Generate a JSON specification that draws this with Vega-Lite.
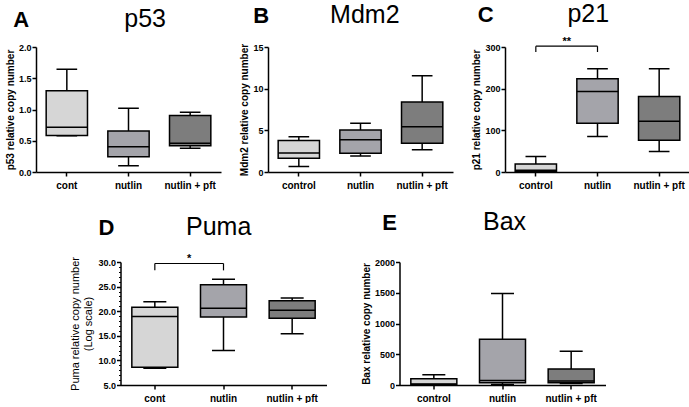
{
  "$schema": "https://vega.github.io/schema/vega-lite/v6.json",
  "background": "white",
  "padding": {"left": 5, "top": 2, "right": 2, "bottom": 0},
  "config": {
    "font": "Liberation Sans",
    "view": {"stroke": null},
    "axis": {"domainColor": "black", "domainWidth": 1.5, "tickColor": "black", "tickWidth": 1.5, "tickSize": 4, "labelFont": "Liberation Sans", "labelFontWeight": "bold", "labelColor": "black", "labelFontSize": 9, "titleFont": "Liberation Sans", "titleFontWeight": "bold", "titleFontSize": 10, "titleColor": "black", "grid": false},
    "axisX": {"labelFontSize": 10, "labelAngle": 0, "labelPadding": 4},
    "axisY": {"titlePadding": 3, "labelPadding": 1, "labelOverlap": false},
    "axisQuantitative": {"labelOverlap": false},
    "text": {"font": "Liberation Sans", "color": "black"}
  },
  "datasets": {
    "p53": [
      {"group": "cont", "lo": 0.58, "q1": 0.585, "med": 0.715, "q3": 1.30, "hi": 1.645},
      {"group": "nutlin", "lo": 0.10, "q1": 0.245, "med": 0.405, "q3": 0.655, "hi": 1.02},
      {"group": "nutlin + pft", "lo": 0.38, "q1": 0.42, "med": 0.46, "q3": 0.905, "hi": 0.955}
    ],
    "mdm2": [
      {"group": "control", "lo": 0.66, "q1": 1.66, "med": 2.28, "q3": 3.78, "hi": 4.24},
      {"group": "nutlin", "lo": 1.91, "q1": 2.24, "med": 3.86, "q3": 5.03, "hi": 5.86},
      {"group": "nutlin + pft", "lo": 2.66, "q1": 3.45, "med": 5.44, "q3": 8.39, "hi": 11.55}
    ],
    "p21": [
      {"group": "control", "lo": 0, "q1": 2, "med": 4, "q3": 19, "hi": 37},
      {"group": "nutlin", "lo": 85, "q1": 117, "med": 193, "q3": 224, "hi": 248},
      {"group": "nutlin + pft", "lo": 49, "q1": 76, "med": 122, "q3": 181, "hi": 248}
    ],
    "puma": [
      {"group": "cont", "lo": 8.4, "q1": 8.6, "med": 18.9, "q3": 20.8, "hi": 21.9},
      {"group": "nutlin", "lo": 12.0, "q1": 18.8, "med": 20.6, "q3": 25.4, "hi": 26.5},
      {"group": "nutlin + pft", "lo": 15.4, "q1": 18.55, "med": 20.2, "q3": 22.1, "hi": 22.7}
    ],
    "bax": [
      {"group": "control", "lo": 0, "q1": 8, "med": 16, "q3": 100, "hi": 166},
      {"group": "nutlin", "lo": 8, "q1": 38, "med": 75, "q3": 745, "hi": 1488},
      {"group": "nutlin + pft", "lo": 25, "q1": 38, "med": 66, "q3": 262, "hi": 548}
    ]
  },
  "spacing": 20,
  "center": true,
  "vconcat": [
    {
      "spacing": 18,
      "hconcat": [
        {
          "width": 185, "height": 125,
          "data": {"name": "p53"},
          "resolve": {"scale": {"x": "independent"}},
          "layer": [
            {"layer": [
              {"mark": {"type": "rule", "color": "black", "strokeWidth": 1.5},
               "encoding": {"x": {"field": "group", "type": "nominal", "sort": null, "scale": {"paddingInner": 0.33, "paddingOuter": 0.165}, "axis": {"title": null}},
                            "y": {"field": "lo", "type": "quantitative", "scale": {"domain": [0, 2], "nice": false, "zero": false}, "axis": {"title": "p53 relative copy number", "values": [0, 0.5, 1, 1.5, 2], "tickCount": 20, "format": ".1f"}},
                            "y2": {"field": "hi"}}},
              {"mark": {"type": "bar", "stroke": "black", "strokeWidth": 1.5},
               "encoding": {"x": {"field": "group", "type": "nominal", "sort": null}, "y": {"field": "q1", "type": "quantitative"}, "y2": {"field": "q3"},
                            "fill": {"field": "group", "type": "nominal", "sort": null, "scale": {"range": ["#d6d6d6", "#a4a4aa", "#7d7d7d"]}, "legend": null}}},
              {"mark": {"type": "bar", "stroke": "black", "strokeWidth": 1.5, "fillOpacity": 0},
               "encoding": {"x": {"field": "group", "type": "nominal", "sort": null}, "y": {"field": "med", "type": "quantitative"}, "y2": {"field": "med"}}},
              {"mark": {"type": "bar", "stroke": "black", "strokeWidth": 1.5, "fillOpacity": 0, "width": {"band": 0.5}},
               "encoding": {"x": {"field": "group", "type": "nominal", "sort": null}, "y": {"field": "hi", "type": "quantitative"}, "y2": {"field": "hi"}}},
              {"mark": {"type": "bar", "stroke": "black", "strokeWidth": 1.5, "fillOpacity": 0, "width": {"band": 0.5}},
               "encoding": {"x": {"field": "group", "type": "nominal", "sort": null}, "y": {"field": "lo", "type": "quantitative"}, "y2": {"field": "lo"}}}
            ]},
            {"data": {"values": [{}]},
             "mark": {"type": "text", "text": "A", "fontSize": 22, "fontWeight": "bold", "align": "left", "baseline": "alphabetic"},
             "encoding": {"x": {"datum": -0.37, "type": "quantitative", "scale": {"domain": [0, 3]}, "axis": null}, "y": {"datum": 2.32, "type": "quantitative"}}},
            {"data": {"values": [{}]},
             "mark": {"type": "text", "text": "p53", "fontSize": 25, "align": "center", "baseline": "alphabetic"},
             "encoding": {"x": {"datum": 1.77, "type": "quantitative", "scale": {"domain": [0, 3]}, "axis": null}, "y": {"datum": 2.32, "type": "quantitative"}}}
          ]
        },
        {
          "width": 185, "height": 125,
          "data": {"name": "mdm2"},
          "resolve": {"scale": {"x": "independent"}},
          "layer": [
            {"layer": [
              {"mark": {"type": "rule", "color": "black", "strokeWidth": 1.5},
               "encoding": {"x": {"field": "group", "type": "nominal", "sort": null, "scale": {"paddingInner": 0.33, "paddingOuter": 0.165}, "axis": {"title": null}},
                            "y": {"field": "lo", "type": "quantitative", "scale": {"domain": [0, 15], "nice": false, "zero": false}, "axis": {"title": "Mdm2 relative copy number", "values": [0, 5, 10, 15], "tickCount": 20}},
                            "y2": {"field": "hi"}}},
              {"mark": {"type": "bar", "stroke": "black", "strokeWidth": 1.5},
               "encoding": {"x": {"field": "group", "type": "nominal", "sort": null}, "y": {"field": "q1", "type": "quantitative"}, "y2": {"field": "q3"},
                            "fill": {"field": "group", "type": "nominal", "sort": null, "scale": {"range": ["#d6d6d6", "#a4a4aa", "#7d7d7d"]}, "legend": null}}},
              {"mark": {"type": "bar", "stroke": "black", "strokeWidth": 1.5, "fillOpacity": 0},
               "encoding": {"x": {"field": "group", "type": "nominal", "sort": null}, "y": {"field": "med", "type": "quantitative"}, "y2": {"field": "med"}}},
              {"mark": {"type": "bar", "stroke": "black", "strokeWidth": 1.5, "fillOpacity": 0, "width": {"band": 0.5}},
               "encoding": {"x": {"field": "group", "type": "nominal", "sort": null}, "y": {"field": "hi", "type": "quantitative"}, "y2": {"field": "hi"}}},
              {"mark": {"type": "bar", "stroke": "black", "strokeWidth": 1.5, "fillOpacity": 0, "width": {"band": 0.5}},
               "encoding": {"x": {"field": "group", "type": "nominal", "sort": null}, "y": {"field": "lo", "type": "quantitative"}, "y2": {"field": "lo"}}}
            ]},
            {"data": {"values": [{}]},
             "mark": {"type": "text", "text": "B", "fontSize": 22, "fontWeight": "bold", "align": "left", "baseline": "alphabetic"},
             "encoding": {"x": {"datum": -0.24, "type": "quantitative", "scale": {"domain": [0, 3]}, "axis": null}, "y": {"datum": 17.9, "type": "quantitative"}}},
            {"data": {"values": [{}]},
             "mark": {"type": "text", "text": "Mdm2", "fontSize": 25, "align": "center", "baseline": "alphabetic"},
             "encoding": {"x": {"datum": 1.57, "type": "quantitative", "scale": {"domain": [0, 3]}, "axis": null}, "y": {"datum": 17.9, "type": "quantitative"}}}
          ]
        },
        {
          "width": 185, "height": 125,
          "data": {"name": "p21"},
          "resolve": {"scale": {"x": "independent"}},
          "layer": [
            {"layer": [
              {"mark": {"type": "rule", "color": "black", "strokeWidth": 1.5},
               "encoding": {"x": {"field": "group", "type": "nominal", "sort": null, "scale": {"paddingInner": 0.33, "paddingOuter": 0.165}, "axis": {"title": null}},
                            "y": {"field": "lo", "type": "quantitative", "scale": {"domain": [0, 300], "nice": false, "zero": false}, "axis": {"title": "p21 relative copy number", "values": [0, 100, 200, 300], "tickCount": 20}},
                            "y2": {"field": "hi"}}},
              {"mark": {"type": "bar", "stroke": "black", "strokeWidth": 1.5},
               "encoding": {"x": {"field": "group", "type": "nominal", "sort": null}, "y": {"field": "q1", "type": "quantitative"}, "y2": {"field": "q3"},
                            "fill": {"field": "group", "type": "nominal", "sort": null, "scale": {"range": ["#d6d6d6", "#a4a4aa", "#7d7d7d"]}, "legend": null}}},
              {"mark": {"type": "bar", "stroke": "black", "strokeWidth": 1.5, "fillOpacity": 0},
               "encoding": {"x": {"field": "group", "type": "nominal", "sort": null}, "y": {"field": "med", "type": "quantitative"}, "y2": {"field": "med"}}},
              {"mark": {"type": "bar", "stroke": "black", "strokeWidth": 1.5, "fillOpacity": 0, "width": {"band": 0.5}},
               "encoding": {"x": {"field": "group", "type": "nominal", "sort": null}, "y": {"field": "hi", "type": "quantitative"}, "y2": {"field": "hi"}}},
              {"mark": {"type": "bar", "stroke": "black", "strokeWidth": 1.5, "fillOpacity": 0, "width": {"band": 0.5}},
               "encoding": {"x": {"field": "group", "type": "nominal", "sort": null}, "y": {"field": "lo", "type": "quantitative"}, "y2": {"field": "lo"}}}
            ]},
            {"data": {"values": [{}]},
             "mark": {"type": "rule", "color": "black", "strokeWidth": 1.2},
             "encoding": {"x": {"datum": 0.5, "type": "quantitative", "scale": {"domain": [0, 3]}, "axis": null}, "x2": {"datum": 1.5}, "y": {"datum": 302, "type": "quantitative"}}},
            {"data": {"values": [{}]},
             "mark": {"type": "rule", "color": "black", "strokeWidth": 1.2},
             "encoding": {"x": {"datum": 0.5, "type": "quantitative", "scale": {"domain": [0, 3]}, "axis": null}, "y": {"datum": 288, "type": "quantitative"}, "y2": {"datum": 302}}},
            {"data": {"values": [{}]},
             "mark": {"type": "rule", "color": "black", "strokeWidth": 1.2},
             "encoding": {"x": {"datum": 1.5, "type": "quantitative", "scale": {"domain": [0, 3]}, "axis": null}, "y": {"datum": 288, "type": "quantitative"}, "y2": {"datum": 302}}},
            {"data": {"values": [{}]},
             "mark": {"type": "text", "text": "**", "fontSize": 11, "fontWeight": "bold", "align": "center", "baseline": "alphabetic"},
             "encoding": {"x": {"datum": 1.0, "type": "quantitative", "scale": {"domain": [0, 3]}, "axis": null}, "y": {"datum": 305, "type": "quantitative"}}},
            {"data": {"values": [{}]},
             "mark": {"type": "text", "text": "C", "fontSize": 22, "fontWeight": "bold", "align": "left", "baseline": "alphabetic"},
             "encoding": {"x": {"datum": -0.44, "type": "quantitative", "scale": {"domain": [0, 3]}, "axis": null}, "y": {"datum": 360, "type": "quantitative"}}},
            {"data": {"values": [{}]},
             "mark": {"type": "text", "text": "p21", "fontSize": 25, "align": "center", "baseline": "alphabetic"},
             "encoding": {"x": {"datum": 1.35, "type": "quantitative", "scale": {"domain": [0, 3]}, "axis": null}, "y": {"datum": 360, "type": "quantitative"}}}
          ]
        }
      ]
    },
    {
      "spacing": 34,
      "hconcat": [
        {
          "width": 206, "height": 123,
          "data": {"name": "puma"},
          "resolve": {"scale": {"x": "independent"}},
          "layer": [
            {"layer": [
              {"mark": {"type": "rule", "color": "black", "strokeWidth": 1.5},
               "encoding": {"x": {"field": "group", "type": "nominal", "sort": null, "scale": {"paddingInner": 0.33, "paddingOuter": 0.165}, "axis": {"title": null}},
                            "y": {"field": "lo", "type": "quantitative", "scale": {"domain": [5, 30], "nice": false, "zero": false},
                                  "axis": {"title": ["Puma relative copy number", "(Log scale)"], "titleFontWeight": "normal", "titleFontSize": 11, "titlePadding": 4,
                                           "values": [5, 6, 7, 8, 9, 10, 11, 12, 13, 14, 15, 16, 17, 18, 19, 20, 21, 22, 23, 24, 25, 26, 27, 28, 29, 30],
                                           "tickCount": 40, "labelOverlap": false,
                                           "labelExpr": "(datum.value % 5 == 0) ? datum.label : ''",
                                           "tickSize": {"condition": {"test": "datum.value % 5 == 0", "value": 4}, "value": 2},
                                           "tickWidth": {"condition": {"test": "datum.value % 5 == 0", "value": 1.5}, "value": 1}}},
                            "y2": {"field": "hi"}}},
              {"mark": {"type": "bar", "stroke": "black", "strokeWidth": 1.5},
               "encoding": {"x": {"field": "group", "type": "nominal", "sort": null}, "y": {"field": "q1", "type": "quantitative"}, "y2": {"field": "q3"},
                            "fill": {"field": "group", "type": "nominal", "sort": null, "scale": {"range": ["#d6d6d6", "#a4a4aa", "#7d7d7d"]}, "legend": null}}},
              {"mark": {"type": "bar", "stroke": "black", "strokeWidth": 1.5, "fillOpacity": 0},
               "encoding": {"x": {"field": "group", "type": "nominal", "sort": null}, "y": {"field": "med", "type": "quantitative"}, "y2": {"field": "med"}}},
              {"mark": {"type": "bar", "stroke": "black", "strokeWidth": 1.5, "fillOpacity": 0, "width": {"band": 0.5}},
               "encoding": {"x": {"field": "group", "type": "nominal", "sort": null}, "y": {"field": "hi", "type": "quantitative"}, "y2": {"field": "hi"}}},
              {"mark": {"type": "bar", "stroke": "black", "strokeWidth": 1.5, "fillOpacity": 0, "width": {"band": 0.5}},
               "encoding": {"x": {"field": "group", "type": "nominal", "sort": null}, "y": {"field": "lo", "type": "quantitative"}, "y2": {"field": "lo"}}}
            ]},
            {"data": {"values": [{}]},
             "mark": {"type": "rule", "color": "black", "strokeWidth": 1.2},
             "encoding": {"x": {"datum": 0.5, "type": "quantitative", "scale": {"domain": [0, 3]}, "axis": null}, "x2": {"datum": 1.5}, "y": {"datum": 29.7, "type": "quantitative"}}},
            {"data": {"values": [{}]},
             "mark": {"type": "rule", "color": "black", "strokeWidth": 1.2},
             "encoding": {"x": {"datum": 0.5, "type": "quantitative", "scale": {"domain": [0, 3]}, "axis": null}, "y": {"datum": 28.3, "type": "quantitative"}, "y2": {"datum": 29.7}}},
            {"data": {"values": [{}]},
             "mark": {"type": "rule", "color": "black", "strokeWidth": 1.2},
             "encoding": {"x": {"datum": 1.5, "type": "quantitative", "scale": {"domain": [0, 3]}, "axis": null}, "y": {"datum": 28.3, "type": "quantitative"}, "y2": {"datum": 29.7}}},
            {"data": {"values": [{}]},
             "mark": {"type": "text", "text": "*", "fontSize": 11, "fontWeight": "bold", "align": "center", "baseline": "alphabetic"},
             "encoding": {"x": {"datum": 1.0, "type": "quantitative", "scale": {"domain": [0, 3]}, "axis": null}, "y": {"datum": 30.0, "type": "quantitative"}}},
            {"data": {"values": [{}]},
             "mark": {"type": "text", "text": "D", "fontSize": 22, "fontWeight": "bold", "align": "left", "baseline": "alphabetic"},
             "encoding": {"x": {"datum": -0.32, "type": "quantitative", "scale": {"domain": [0, 3]}, "axis": null}, "y": {"datum": 35.5, "type": "quantitative"}}},
            {"data": {"values": [{}]},
             "mark": {"type": "text", "text": "Puma", "fontSize": 25, "align": "center", "baseline": "alphabetic"},
             "encoding": {"x": {"datum": 1.43, "type": "quantitative", "scale": {"domain": [0, 3]}, "axis": null}, "y": {"datum": 35.5, "type": "quantitative"}}}
          ]
        },
        {
          "width": 206, "height": 123,
          "data": {"name": "bax"},
          "resolve": {"scale": {"x": "independent"}},
          "layer": [
            {"layer": [
              {"mark": {"type": "rule", "color": "black", "strokeWidth": 1.5},
               "encoding": {"x": {"field": "group", "type": "nominal", "sort": null, "scale": {"paddingInner": 0.33, "paddingOuter": 0.165}, "axis": {"title": null}},
                            "y": {"field": "lo", "type": "quantitative", "scale": {"domain": [0, 2000], "nice": false, "zero": false}, "axis": {"title": "Bax relative copy number", "values": [0, 500, 1000, 1500, 2000], "tickCount": 20, "format": "d"}},
                            "y2": {"field": "hi"}}},
              {"mark": {"type": "bar", "stroke": "black", "strokeWidth": 1.5},
               "encoding": {"x": {"field": "group", "type": "nominal", "sort": null}, "y": {"field": "q1", "type": "quantitative"}, "y2": {"field": "q3"},
                            "fill": {"field": "group", "type": "nominal", "sort": null, "scale": {"range": ["#d6d6d6", "#a4a4aa", "#7d7d7d"]}, "legend": null}}},
              {"mark": {"type": "bar", "stroke": "black", "strokeWidth": 1.5, "fillOpacity": 0},
               "encoding": {"x": {"field": "group", "type": "nominal", "sort": null}, "y": {"field": "med", "type": "quantitative"}, "y2": {"field": "med"}}},
              {"mark": {"type": "bar", "stroke": "black", "strokeWidth": 1.5, "fillOpacity": 0, "width": {"band": 0.5}},
               "encoding": {"x": {"field": "group", "type": "nominal", "sort": null}, "y": {"field": "hi", "type": "quantitative"}, "y2": {"field": "hi"}}},
              {"mark": {"type": "bar", "stroke": "black", "strokeWidth": 1.5, "fillOpacity": 0, "width": {"band": 0.5}},
               "encoding": {"x": {"field": "group", "type": "nominal", "sort": null}, "y": {"field": "lo", "type": "quantitative"}, "y2": {"field": "lo"}}}
            ]},
            {"data": {"values": [{}]},
             "mark": {"type": "text", "text": "E", "fontSize": 22, "fontWeight": "bold", "align": "left", "baseline": "alphabetic"},
             "encoding": {"x": {"datum": -0.25, "type": "quantitative", "scale": {"domain": [0, 3]}, "axis": null}, "y": {"datum": 2520, "type": "quantitative"}}},
            {"data": {"values": [{}]},
             "mark": {"type": "text", "text": "Bax", "fontSize": 25, "align": "center", "baseline": "alphabetic"},
             "encoding": {"x": {"datum": 1.53, "type": "quantitative", "scale": {"domain": [0, 3]}, "axis": null}, "y": {"datum": 2520, "type": "quantitative"}}}
          ]
        }
      ]
    }
  ]
}
